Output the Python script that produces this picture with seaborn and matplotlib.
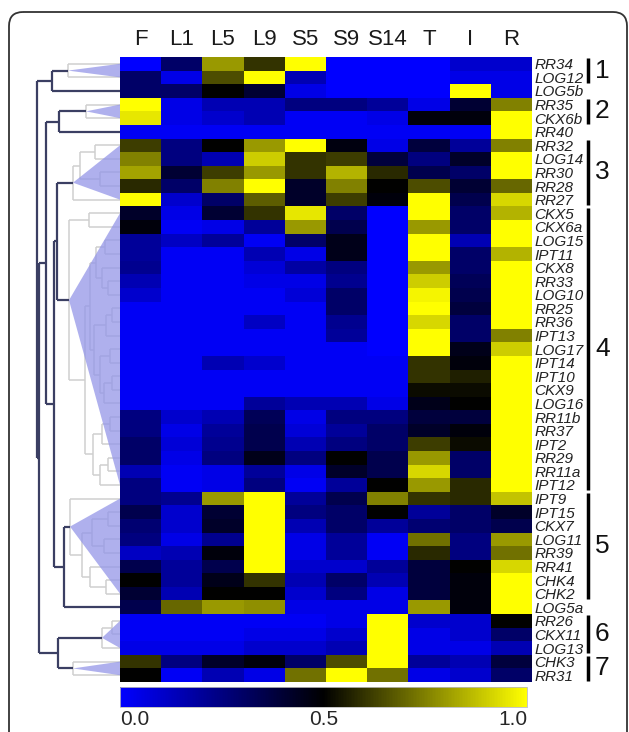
import numpy as np
import pandas as pd
import matplotlib
matplotlib.use("Agg")
import matplotlib.pyplot as plt
import seaborn as sns
from matplotlib.colors import LinearSegmentedColormap
from matplotlib.patches import FancyBboxPatch, Polygon

sns.set_style("white")
plt.rcParams['font.family'] = ['Liberation Sans', 'DejaVu Sans']

# samples (columns)
samples = ['F', 'L1', 'L5', 'L9', 'S5', 'S9', 'S14', 'T', 'I', 'R']

# genes and relative expression, in display order, grouped by block
genes_a = ['RR34', 'LOG12', 'LOG5b']
vals_a = [[0.00, 0.30, 0.80, 0.60, 1.00, 0.00, 0.00, 0.00, 0.10, 0.10],
          [0.30, 0.05, 0.65, 1.00, 0.15, 0.00, 0.00, 0.00, 0.05, 0.05],
          [0.30, 0.30, 0.50, 0.40, 0.05, 0.00, 0.00, 0.00, 1.00, 0.05]]

genes_b = ['RR35', 'CKX6b', 'RR40']
vals_b = [[1.00, 0.05, 0.15, 0.15, 0.25, 0.25, 0.20, 0.05, 0.40, 0.75],
          [0.95, 0.05, 0.10, 0.15, 0.02, 0.02, 0.05, 0.48, 0.48, 1.00],
          [0.02, 0.02, 0.02, 0.02, 0.02, 0.02, 0.02, 0.02, 0.02, 1.00]]

genes_c = ['RR32', 'LOG14', 'RR30', 'RR28', 'RR27']
vals_c = [[0.62, 0.25, 0.50, 0.80, 1.00, 0.47, 0.05, 0.38, 0.20, 0.75],
          [0.75, 0.25, 0.15, 0.90, 0.60, 0.62, 0.38, 0.25, 0.42, 1.00],
          [0.82, 0.40, 0.62, 0.80, 0.60, 0.85, 0.58, 0.35, 0.30, 1.00],
          [0.58, 0.30, 0.75, 1.00, 0.42, 0.75, 0.50, 0.65, 0.40, 0.70],
          [1.00, 0.10, 0.30, 0.68, 0.42, 0.62, 0.48, 1.00, 0.35, 0.92]]

genes_d = ['CKX5', 'CKX6a', 'LOG15', 'IPT11', 'CKX8', 'RR33', 'LOG10', 'RR25',
           'RR36', 'IPT13', 'LOG17', 'IPT14', 'IPT10', 'CKX9', 'LOG16', 'RR11b',
           'RR37', 'IPT2', 'RR29', 'RR11a', 'IPT12']
vals_d = [[0.42, 0.05, 0.40, 0.60, 0.95, 0.30, 0.00, 1.00, 0.30, 0.85],
          [0.48, 0.02, 0.05, 0.20, 0.80, 0.35, 0.00, 0.80, 0.30, 1.00],
          [0.20, 0.12, 0.20, 0.02, 0.30, 0.45, 0.00, 1.00, 0.15, 1.00],
          [0.20, 0.02, 0.02, 0.15, 0.05, 0.45, 0.00, 1.00, 0.30, 0.85],
          [0.22, 0.02, 0.02, 0.08, 0.18, 0.25, 0.00, 0.80, 0.30, 1.00],
          [0.15, 0.02, 0.02, 0.05, 0.05, 0.22, 0.00, 0.90, 0.33, 1.00],
          [0.10, 0.02, 0.02, 0.02, 0.08, 0.30, 0.00, 0.98, 0.35, 1.00],
          [0.02, 0.02, 0.02, 0.02, 0.02, 0.30, 0.00, 1.00, 0.38, 1.00],
          [0.02, 0.02, 0.02, 0.12, 0.02, 0.22, 0.00, 0.92, 0.30, 1.00],
          [0.02, 0.02, 0.02, 0.02, 0.02, 0.20, 0.00, 1.00, 0.30, 0.75],
          [0.02, 0.02, 0.02, 0.02, 0.02, 0.02, 0.00, 1.00, 0.45, 0.90],
          [0.02, 0.02, 0.15, 0.10, 0.02, 0.02, 0.02, 0.60, 0.48, 1.00],
          [0.02, 0.02, 0.02, 0.02, 0.02, 0.02, 0.02, 0.60, 0.56, 1.00],
          [0.02, 0.02, 0.02, 0.02, 0.02, 0.02, 0.02, 0.52, 0.52, 1.00],
          [0.02, 0.02, 0.02, 0.20, 0.15, 0.15, 0.05, 0.45, 0.50, 1.00],
          [0.25, 0.10, 0.15, 0.33, 0.05, 0.25, 0.25, 0.38, 0.38, 1.00],
          [0.25, 0.05, 0.20, 0.35, 0.08, 0.20, 0.30, 0.42, 0.48, 1.00],
          [0.30, 0.08, 0.22, 0.35, 0.15, 0.25, 0.30, 0.62, 0.52, 1.00],
          [0.30, 0.05, 0.25, 0.45, 0.25, 0.50, 0.35, 0.80, 0.30, 1.00],
          [0.15, 0.02, 0.05, 0.20, 0.05, 0.42, 0.35, 0.92, 0.30, 1.00],
          [0.25, 0.02, 0.05, 0.25, 0.02, 0.20, 0.50, 0.80, 0.58, 1.00]]

genes_e = ['IPT9', 'IPT15', 'CKX7', 'LOG11', 'RR39', 'RR41', 'CHK4', 'CHK2', 'LOG5a']
vals_e = [[0.25, 0.22, 0.80, 1.00, 0.20, 0.35, 0.75, 0.60, 0.58, 0.88],
          [0.35, 0.10, 0.40, 1.00, 0.25, 0.30, 0.50, 0.20, 0.30, 0.42],
          [0.28, 0.10, 0.42, 1.00, 0.15, 0.30, 0.20, 0.28, 0.30, 0.35],
          [0.25, 0.05, 0.22, 1.00, 0.05, 0.20, 0.02, 0.72, 0.25, 0.80],
          [0.12, 0.15, 0.48, 1.00, 0.05, 0.20, 0.02, 0.58, 0.25, 0.72],
          [0.35, 0.20, 0.35, 1.00, 0.10, 0.10, 0.20, 0.38, 0.50, 0.92],
          [0.50, 0.20, 0.45, 0.60, 0.15, 0.30, 0.15, 0.38, 0.48, 1.00],
          [0.40, 0.15, 0.50, 0.50, 0.10, 0.25, 0.05, 0.38, 0.48, 1.00],
          [0.35, 0.70, 0.80, 0.78, 0.05, 0.05, 0.05, 0.80, 0.48, 1.00]]

genes_f = ['RR26', 'CKX11', 'LOG13', 'CHK3', 'RR31']
vals_f = [[0.02, 0.02, 0.02, 0.02, 0.02, 0.05, 1.00, 0.10, 0.10, 0.50],
          [0.02, 0.02, 0.02, 0.05, 0.05, 0.10, 1.00, 0.05, 0.10, 0.30],
          [0.05, 0.05, 0.05, 0.10, 0.10, 0.15, 1.00, 0.05, 0.05, 0.15],
          [0.60, 0.25, 0.42, 0.48, 0.30, 0.65, 1.00, 0.20, 0.15, 0.38],
          [0.50, 0.02, 0.15, 0.05, 0.72, 1.00, 0.72, 0.05, 0.10, 0.30]]

# cluster sub-trees: (height, left, right), leaves = row index
cluster_trees = {
    'c1': (52, 0, 1),
    'c2': (34, 3, 4),
    'c3': (47, (40, (25, 6, 7), (20, 8, 9)), 10),
    'c4': (51, (31, 11, 12),
           (35, (30, (24, (15, 13, 14), (18, 15, (12, 16, 17))),
                 (26, (14, (8, 18, 19), 20), (20, (10, 21, 22), (16, (8, 23, 24), 25)))),
            (27, (18, (10, 26, 27), 28), (20, (12, 29, 30), 31)))),
    'c5': (50, 32, (38, (28, (12, 33, 34), (16, 35, 36)), (30, 37, (14, 38, 39)))),
    'c6': (18, (8, 41, 42), 43),
    'c7': (47, 44, 45),
}
# top-level tree joining clusters and single genes
top_tree = (82.5, (68, 'c1', 2),
            (81, (74, (61, 'c2', 5),
                  (66, (63, 'c3', 'c4'), (56, 'c5', 40))),
             (62, 'c6', 'c7')))

# cluster labels on the right: (label, first row, last row + 1)
cluster_rows = [('1', 0, 2), ('2', 3, 5), ('3', 6, 11), ('4', 11, 32),
                ('5', 32, 40), ('6', 41, 44), ('7', 44, 46)]

genes = genes_a + genes_b + genes_c + genes_d + genes_e + genes_f
df = pd.DataFrame(vals_a + vals_b + vals_c + vals_d + vals_e + vals_f,
                  index=genes, columns=samples)
n_rows = len(genes)

W, H = 629, 732
fig = plt.figure(figsize=(W / 100, H / 100), dpi=100)

def px(l, t, r, b):
    return [l / W, 1 - b / H, (r - l) / W, (b - t) / H]

# frame with rounded corners
bg = fig.add_axes([0, 0, 1, 1], zorder=-1)
bg.set_xlim(0, W)
bg.set_ylim(H, 0)
bg.axis('off')
bg.add_patch(FancyBboxPatch((9, 12), 618, 760, boxstyle="round,pad=0,rounding_size=14",
                            fill=False, edgecolor='#333333', lw=1.3))

cmap = LinearSegmentedColormap.from_list('byk', ['#0000ff', '#000000', '#ffff00'])

ax = fig.add_axes(px(120, 57, 532, 682))
cax = fig.add_axes(px(120, 687, 527, 707))
sns.heatmap(df, ax=ax, cmap=cmap, vmin=0, vmax=1, cbar_ax=cax,
            xticklabels=True, yticklabels=True,
            cbar_kws={'orientation': 'horizontal'})

ax.xaxis.tick_top()
ax.set_xticklabels(samples, fontsize=16, rotation=0, color='#1a1a1a')
ax.yaxis.tick_right()
ax.set_yticklabels(genes, fontsize=11, rotation=0, style='italic', color='#222222')
ax.tick_params(axis='x', length=0, pad=5)
ax.tick_params(axis='y', length=0, pad=1.5)
ax.set_xlabel('')
ax.set_ylabel('')

cbar = ax.collections[0].colorbar
cbar.set_ticks([0, 0.5, 1])
cbar.set_ticklabels(['0.0', '0.5', '1.0'])
cax.tick_params(length=0, labelsize=15, pad=2)
labels = cax.get_xticklabels()
labels[0].set_ha('left')
labels[2].set_ha('right')
cbar.outline.set_edgecolor('#bbbbbb')
cbar.outline.set_linewidth(0.6)

# dendrogram
axd = fig.add_axes(px(15, 57, 120, 682))
axd.set_xlim(105, 0)
axd.set_ylim(n_rows, 0)
axd.axis('off')

GRAY = '#cfcfcf'
DARK = '#3b3f63'

def draw(node, color, lw, z):
    if isinstance(node, int):
        return node + 0.5, 0.0
    if isinstance(node, str):
        sub = cluster_trees[node]
        pos, h = draw(sub, GRAY, 1.1, 1)
        leaves = []
        def collect(n):
            if isinstance(n, int):
                leaves.append(n)
            else:
                collect(n[1])
                collect(n[2])
        collect(sub)
        tri = Polygon([(h, pos), (0, min(leaves) + 0.5), (0, max(leaves) + 0.5)],
                      closed=True, facecolor='#9496e8', alpha=0.75, edgecolor='none', zorder=2)
        axd.add_patch(tri)
        return pos, h
    h, left, right = node
    pl, hl = draw(left, color, lw, z)
    pr, hr = draw(right, color, lw, z)
    axd.plot([hl, h], [pl, pl], color=color, lw=lw, zorder=z, solid_capstyle='butt')
    axd.plot([hr, h], [pr, pr], color=color, lw=lw, zorder=z, solid_capstyle='butt')
    axd.plot([h, h], [pl, pr], color=color, lw=lw, zorder=z, solid_capstyle='butt')
    return (pl + pr) / 2, h

draw(top_tree, DARK, 1.6, 3)

# cluster bars and numbers
axr = fig.add_axes(px(532, 57, 626, 682))
axr.set_xlim(532, 626)
axr.set_ylim(n_rows, 0)
axr.axis('off')
for lab, r0, r1 in cluster_rows:
    axr.plot([588, 588], [r0 + 0.1, r1 - 0.1], color='black', lw=2.5, solid_capstyle='butt')
    axr.text(595, (r0 + r1) / 2, lab, fontsize=19, ha='left', va='center', color='#111111')

fig.savefig('out.png', dpi=100)
